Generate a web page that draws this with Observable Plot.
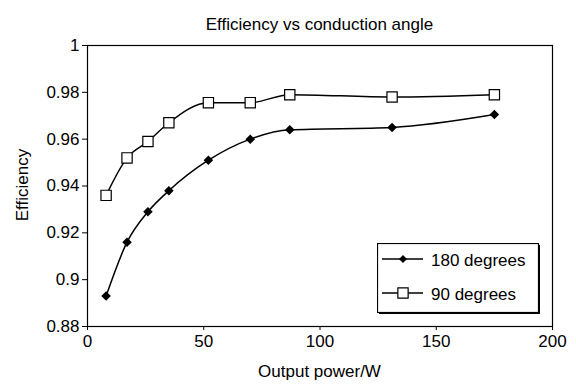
<!DOCTYPE html>
<html><head><meta charset="utf-8">
<script src="https://cdn.jsdelivr.net/npm/d3@7"></script>
<script src="https://cdn.jsdelivr.net/npm/@observablehq/plot@0.6"></script>
<style>
body{margin:0;background:#fff;}
#wrap{position:relative;width:576px;height:392px;font-family:"Liberation Sans",Arial,sans-serif;color:#000;overflow:hidden;}
#wrap svg.plot{position:absolute;left:0;top:0;}
.lbl{position:absolute;font-size:17px;line-height:17px;white-space:nowrap;}
#title{left:87px;width:465px;top:16px;text-align:center;}
#xlabel{left:87px;width:465px;top:363px;text-align:center;}
#ylabel{left:22px;top:185px;transform:translate(-50%,-50%) rotate(-90deg);}
#legend{position:absolute;left:377px;top:243px;}
</style>
</head><body>
<div id="wrap">
  <div id="title" class="lbl"></div>
  <div id="xlabel" class="lbl"></div>
  <div id="ylabel" class="lbl"></div>
</div>
<script>
const titleText = "Efficiency vs conduction angle";
const xLabel = "Output power/W";
const yLabel = "Efficiency";
const power = [8, 17, 26, 35, 52, 70, 87, 131, 175];
const eff180 = [0.893, 0.916, 0.929, 0.938, 0.951, 0.960, 0.964, 0.965, 0.9705];
const eff90 = [0.936, 0.952, 0.959, 0.967, 0.9756, 0.9756, 0.979, 0.978, 0.979];
const seriesNames = ["180 degrees", "90 degrees"];
const xTicks = [0, 50, 100, 150, 200];
const yTicks = [0.88, 0.9, 0.92, 0.94, 0.96, 0.98, 1];
const yTickLabels = ["0.88", "0.9", "0.92", "0.94", "0.96", "0.98", "1"];

const font = '"Liberation Sans", Arial, sans-serif';
const rDiamond = 4.3, rSquare = 5.8;

const chart = Plot.plot({
  width: 576, height: 392,
  marginTop: 45, marginBottom: 66, marginLeft: 87, marginRight: 24,
  style: {fontFamily: font, fontSize: "17px", color: "#000", background: "transparent", overflow: "visible"},
  x: {domain: [0, 200]},
  y: {domain: [0.88, 1]},
  marks: [
    Plot.axisX({ticks: xTicks, tickSize: 4, tickPadding: 4, label: null, tickFormat: d => String(d)}),
    Plot.axisY({ticks: yTicks, tickSize: 5, tickPadding: 3, label: null, tickFormat: (d) => yTickLabels[yTicks.indexOf(d)]}),
    Plot.frame({stroke: "#000", strokeWidth: 1.2}),
    Plot.line(power, {x: power, y: eff180, curve: "monotone-x", stroke: "#000", strokeWidth: 1.5}),
    Plot.line(power, {x: power, y: eff90, curve: "monotone-x", stroke: "#000", strokeWidth: 1.5}),
    Plot.dot(power, {x: power, y: eff180, symbol: "diamond2", fill: "#000", stroke: "none", r: rDiamond}),
    Plot.dot(power, {x: power, y: eff90, symbol: "square", fill: "#fff", stroke: "#000", strokeWidth: 1.2, r: rSquare})
  ]
});
chart.classList.add("plot");
const wrap = document.getElementById("wrap");
wrap.insertBefore(chart, wrap.firstChild);
document.getElementById("title").textContent = titleText;
document.getElementById("xlabel").textContent = xLabel;
document.getElementById("ylabel").textContent = yLabel;

// legend
const lg = d3.select("#wrap").append("svg").attr("id", "legend")
  .attr("width", 166).attr("height", 74)
  .style("font-family", font).style("font-size", "17px");
lg.append("rect").attr("x", 2).attr("y", 2).attr("width", 161).attr("height", 69).attr("fill", "#000");
lg.append("rect").attr("x", 0.5).attr("y", 0.5).attr("width", 161).attr("height", 69)
  .attr("fill", "#fff").attr("stroke", "#000").attr("stroke-width", 1.2);
const rows = [
  {name: seriesNames[0], cy: 16, ty: 22.7, sym: d3.symbolDiamond2, r: rDiamond * 0.85, fill: "#000", stroke: "none"},
  {name: seriesNames[1], cy: 50, ty: 57, sym: d3.symbolSquare, r: rSquare, fill: "#fff", stroke: "#000"}
];
rows.forEach(row => {
  lg.append("line").attr("x1", 5).attr("x2", 46).attr("y1", row.cy).attr("y2", row.cy)
    .attr("stroke", "#000").attr("stroke-width", 1.5);
  lg.append("path").attr("d", d3.symbol(row.sym, Math.PI * row.r * row.r)())
    .attr("transform", `translate(26,${row.cy})`)
    .attr("fill", row.fill).attr("stroke", row.stroke).attr("stroke-width", 1.2);
  lg.append("text").attr("x", 54).attr("y", row.ty).text(row.name);
});
</script>
</body></html>
